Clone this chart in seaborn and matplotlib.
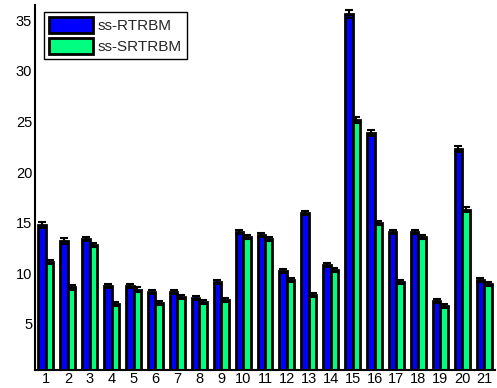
import pandas as pd
import seaborn as sns
import matplotlib.pyplot as plt

# values
groups = [str(i) for i in range(1, 22)]
rtrbm = [14.8, 13.2, 13.4, 8.7, 8.7, 8.2, 8.2, 7.6, 9.1, 14.1, 13.8, 10.2, 16.0,
         10.8, 35.6, 23.9, 14.1, 14.1, 7.3, 22.3, 9.3]
srtrbm = [11.1, 8.6, 12.8, 7.0, 8.4, 7.1, 7.7, 7.2, 7.4, 13.6, 13.4, 9.3, 7.9,
          10.3, 25.1, 15.0, 9.1, 13.6, 6.8, 16.3, 8.9]
rtrbm_err = [0.3, 0.3, 0.2, 0.2, 0.2, 0.2, 0.2, 0.2, 0.2, 0.2, 0.2, 0.2, 0.2,
             0.2, 0.4, 0.3, 0.2, 0.2, 0.2, 0.3, 0.2]
srtrbm_err = [0.2, 0.2, 0.2, 0.2, 0.2, 0.2, 0.2, 0.2, 0.2, 0.2, 0.2, 0.2, 0.2,
              0.2, 0.3, 0.2, 0.2, 0.2, 0.2, 0.2, 0.2]
series = ["ss-RTRBM", "ss-SRTRBM"]
colors = {"ss-RTRBM": "#0000ff", "ss-SRTRBM": "#00ff80"}

df = pd.DataFrame({
    "group": groups * 2,
    "value": rtrbm + srtrbm,
    "err": rtrbm_err + srtrbm_err,
    "model": [series[0]] * len(groups) + [series[1]] * len(groups),
})

sns.set_style("white")
plt.rcParams["font.family"] = ["Liberation Sans", "DejaVu Sans"]

fig = plt.figure(figsize=(4.97, 3.88), dpi=100)
ax = fig.add_axes([0.0704, 0.0464, 0.9256, 0.9407])

sns.barplot(data=df, x="group", y="value", hue="model", hue_order=series,
            palette=colors, width=0.68, errorbar=None, saturation=1,
            edgecolor="black", linewidth=2, ax=ax)

# error bars at the centre of each bar
bars = [p for p in ax.patches if p.get_height() > 0]
errs = rtrbm_err + srtrbm_err
for p, e in zip(bars, errs):
    ax.errorbar(p.get_x() + p.get_width() / 2, p.get_height(), yerr=e,
                color="black", capsize=3, elinewidth=1.5, capthick=1.5,
                fmt="none", zorder=5)

ax.set_xlim(-0.5, 20.5)
ax.set_ylim(0.45, 36.5)
ax.set_yticks([5, 10, 15, 20, 25, 30, 35])
ax.set_xlabel("")
ax.set_ylabel("")
ax.tick_params(axis="both", length=0, labelsize=10.5, colors="black")
ax.tick_params(axis="x", pad=1.5)
ax.tick_params(axis="y", pad=2)
sns.despine(ax=ax)
for s in ["left", "bottom"]:
    ax.spines[s].set_linewidth(1.5)
    ax.spines[s].set_color("black")

handles, labels = ax.get_legend_handles_labels()
leg = ax.legend(handles, labels, loc="upper left",
                bbox_to_anchor=(0.019, 0.981), fontsize=11, frameon=True,
                fancybox=False, framealpha=1, edgecolor="black",
                handlelength=2.9, handleheight=1.2, handletextpad=0.3,
                labelspacing=0.3, borderpad=0.35, borderaxespad=0)
leg.get_frame().set_linewidth(1)
for h in leg.get_patches():
    h.set_edgecolor("black")
    h.set_linewidth(2)

fig.savefig("out.png", dpi=100)
